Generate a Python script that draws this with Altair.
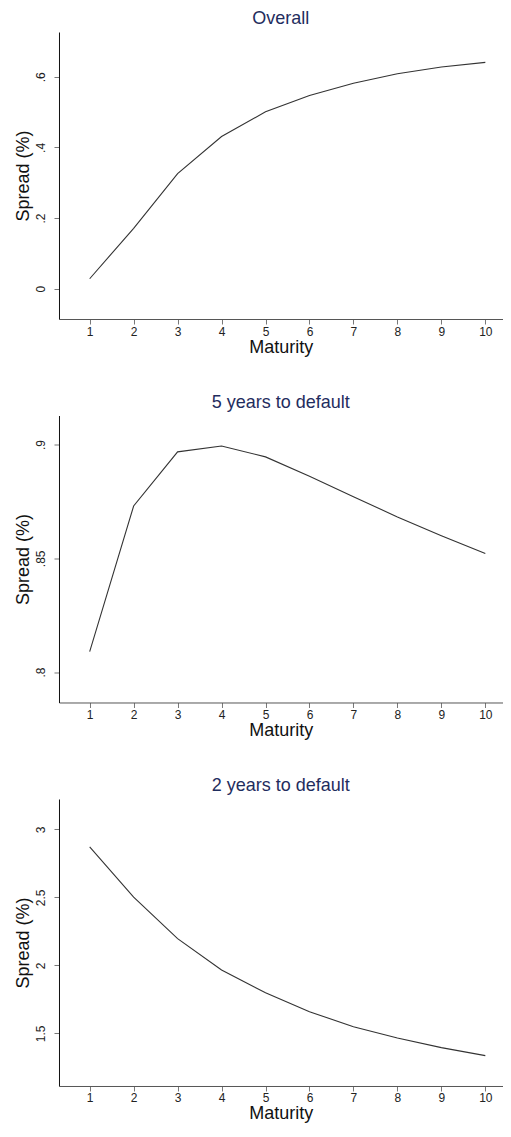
import altair as alt
import pandas as pd

maturity = [1, 2, 3, 4, 5, 6, 7, 8, 9, 10]
overall = [0.028, 0.171, 0.326, 0.431, 0.501, 0.547, 0.582, 0.609, 0.628, 0.641]
five_years = [0.809, 0.873, 0.8968, 0.8994, 0.8946, 0.8861, 0.8771, 0.8682, 0.8599, 0.8521]
two_years = [2.871, 2.502, 2.197, 1.966, 1.799, 1.660, 1.549, 1.466, 1.396, 1.337]

titles = ["Overall", "5 years to default", "2 years to default"]
y_ticks = [[0, 0.2, 0.4, 0.6], [0.8, 0.85, 0.9], [1.5, 2, 2.5, 3]]
y_domains = [[-0.086, 0.727], [0.7866, 0.9128], [1.114, 3.223]]
x_domain = [0.302, 10.395]

FONT = "Liberation Sans"


def panel(values, title, ticks, domain):
    df = pd.DataFrame({"Maturity": maturity, "Spread": values})
    return (
        alt.Chart(
            df,
            title=alt.TitleParams(
                title, fontSize=18, font=FONT, fontWeight="normal",
                color="#1f2d5e", anchor="middle", offset=4,
            ),
        )
        .mark_line(color="#333333", strokeWidth=1.1)
        .encode(
            x=alt.X(
                "Maturity:Q",
                scale=alt.Scale(domain=x_domain, nice=False, zero=False),
                axis=alt.Axis(
                    values=maturity, title="Maturity", grid=False,
                    domainColor="#555555", tickColor="#777777", tickSize=5,
                    labelFontSize=12, labelFont=FONT, labelColor="#222222",
                    labelPadding=2, titleFontSize=18, titleFont=FONT,
                    titleFontWeight="normal", titleColor="#111111", titlePadding=1,
                ),
            ),
            y=alt.Y(
                "Spread:Q",
                scale=alt.Scale(domain=domain, nice=False, zero=False),
                axis=alt.Axis(
                    values=ticks, title="Spread (%)", grid=False,
                    labelExpr="replace(toString(datum.value), '0.', '.')",
                    labelAngle=270, labelAlign="center", labelBaseline="bottom",
                    domainColor="#111111", tickColor="#777777", tickSize=5,
                    labelFontSize=12, labelFont=FONT, labelColor="#222222",
                    labelPadding=6, titleFontSize=18, titleFont=FONT,
                    titleFontWeight="normal", titleColor="#111111", titlePadding=4,
                    minExtent=22, maxExtent=22,
                ),
            ),
        )
        .properties(width=443.7, height=287,
                    view=alt.ViewBackground(stroke="transparent", strokeWidth=0))
    )


charts = [panel(v, t, tk, d) for v, t, tk, d in zip(
    [overall, five_years, two_years], titles, y_ticks, y_domains)]

chart = (
    alt.vconcat(*charts, spacing=96.5, bounds="flush")
    .properties(padding={"left": 7, "top": 2, "right": 0, "bottom": 0})
    .configure_view(stroke="transparent", strokeWidth=0)
    .configure(background="white")
)

chart.save("out.html", embed_options={"renderer": "svg", "actions": False})
